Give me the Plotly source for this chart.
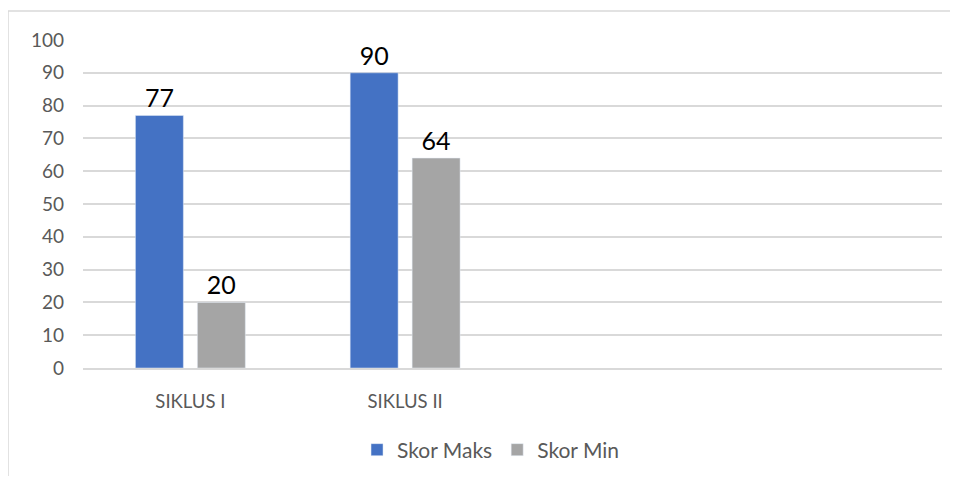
import plotly.graph_objects as go

# data
siklus = ['SIKLUS I', 'SIKLUS II']
skor_maks = [77, 90]
skor_min = [20, 64]
y_ticks = list(range(0, 101, 10))

font_name = 'Lato, Open Sans, sans-serif'

fig = go.Figure()

fig.add_trace(go.Bar(
    x=siklus,
    y=skor_maks,
    name='Skor Maks',
    marker_color='#4472C4',
    text=skor_maks,
    textposition='outside',
    textfont=dict(size=25, color='black'),
    cliponaxis=False
))

fig.add_trace(go.Bar(
    x=siklus,
    y=skor_min,
    name='Skor Min',
    marker_color='#A5A5A5',
    text=skor_min,
    textposition='outside',
    textfont=dict(size=25, color='black'),
    cliponaxis=False
))

# light frame around the chart, as in the Excel picture
fig.add_shape(
    type='rect', xref='paper', yref='paper',
    x0=-75 / 859, x1=1.2, y0=-0.5, y1=1 + 29 / 328,
    line=dict(color='#D9D9D9', width=1.5),
    fillcolor='rgba(0,0,0,0)', layer='below'
)

# the page has an 8px body margin, so the figure is a bit smaller than the window
fig.update_layout(
    width=942,
    height=468,
    margin=dict(l=75, r=8, t=32, b=108, autoexpand=False),
    plot_bgcolor='white',
    paper_bgcolor='white',
    font=dict(family=font_name, color='#595959', size=18),
    barmode='group',
    bargap=0.423,
    bargroupgap=0.226,
    showlegend=True,
    legend=dict(
        orientation='h',
        x=0.475, xanchor='center',
        y=-0.25, yanchor='middle',
        font=dict(size=21, color='#595959'),
        traceorder='normal'
    ),
    xaxis=dict(
        type='category',
        range=[-0.5, 3.5],
        showgrid=False,
        showline=True,
        linecolor='#D9D9D9',
        linewidth=1.5,
        ticks='',
        ticklabelstandoff=16,
        tickfont=dict(size=18.5, color='#595959')
    ),
    yaxis=dict(
        range=[0, 100],
        tickvals=y_ticks,
        showgrid=True,
        gridcolor='#D9D9D9',
        gridwidth=1.5,
        zeroline=False,
        showline=False,
        ticks='',
        ticklabelstandoff=18,
        tickfont=dict(size=19, color='#595959')
    )
)

fig.write_html("out.html")
